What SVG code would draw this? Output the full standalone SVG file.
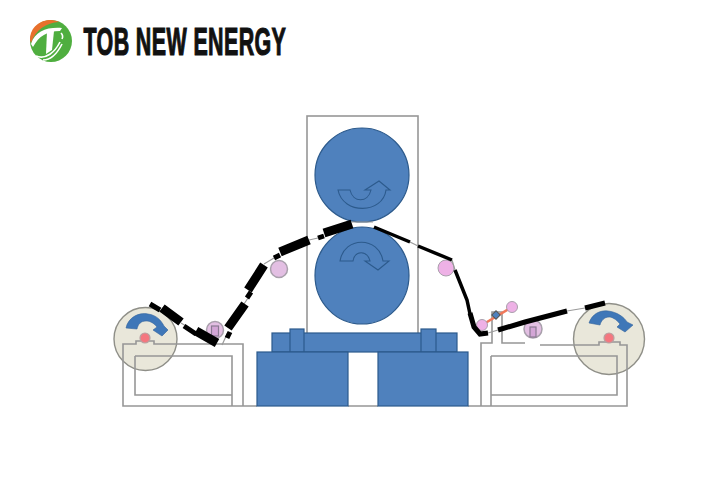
<svg xmlns="http://www.w3.org/2000/svg" width="720" height="480" viewBox="0 0 720 480">
<style>
.frame{fill:none;stroke:#979797;stroke-width:1.6}
.blue{fill:#4f81bd;stroke:#2c5a8c;stroke-width:1.2}
.out{fill:none;stroke:#2c5a8c;stroke-width:1.1}
.cir{fill:#e9e7da;stroke:#8f8f88;stroke-width:1.4}
.arr{fill:#3f77b8;stroke:#35659c;stroke-width:.6}
.red{fill:#f4777f;stroke:#b9a0a0;stroke-width:1.2}
.pur{fill:#e3bfe3;stroke:#a9a0ac;stroke-width:1.5}
.pnk{fill:#eeb1e6;stroke:#a9a0ac;stroke-width:1}
.in{fill:#d3a5d6;stroke:#8a7a92;stroke-width:1.2}
.thin{fill:none;stroke:#9a9a9a;stroke-width:1.2}
.b1{fill:none;stroke:#000;stroke-width:9}
.b2{fill:none;stroke:#000;stroke-width:5}
.b3{fill:none;stroke:#000;stroke-width:3.500}
</style>
<rect width="720" height="480" fill="#fff"/>
<g id="logo">
<circle cx="51" cy="41" r="21" fill="#4fae3f"/>
<path d="M30 40C30 27 40 20 51 20C54 20 57 21 59 22C46 23 36 29 31 43Z" fill="#e8702c"/>
<path d="M31 44C35 31 47 27 62 28L60 31C47 31 39 36 33 47Z" fill="#fff"/>
<path d="M47 31H54L52 50L46 54Z" fill="#fff"/>
<path d="M36 56C46 60 55 52 60 42M43 60C52 60 58 52 62 44M61 33C63 35 63 37 62 39" fill="none" stroke="#fff" stroke-width="1.600"/>
<text transform="translate(83.500 55) scale(.55 1)" font-family="'Liberation Sans',Arial,sans-serif" font-weight="700" font-size="39" fill="#111" stroke="#111" stroke-width="1.200" textLength="368">TOB NEW ENERGY</text>
</g>
<g id="press-frame"><rect class="frame" x="307" y="116" width="111" height="218"/></g>
<g id="roller-top">
<circle class="blue" cx="362" cy="175" r="47"/>
<path class="out" d="M338 190H350C353 203 368 203 371 190H365L379 181L390 190H386C383 214 343 215 338 190Z"/>
</g>
<g id="roller-bottom">
<ellipse class="blue" cx="362" cy="275.500" rx="47" ry="48.500"/>
<path class="out" d="M340 261H353C355 250 367 250 370 261H365L378 270L389 261H383C379 236 344 236 340 261Z"/>
</g>
<g id="press-base">
<path class="frame" d="M243 406H257M348 406H378M468 406H481"/>
<rect class="blue" x="272" y="333" width="185" height="19"/>
<rect class="blue" x="290" y="329" width="14" height="23"/>
<rect class="blue" x="421" y="329" width="15" height="23"/>
<rect class="blue" x="257" y="352" width="91" height="54"/>
<rect class="blue" x="378" y="352" width="90" height="54"/>
</g>
<g id="unwinder">
<circle class="cir" cx="145.500" cy="339" r="31.500"/>
<path class="frame" d="M243 406V344H154V341H136V344H123V406H243M135 356H232V406M135 356V395H232"/>
<path class="arr" d="M126 328C128 318 138 312 148 314C156 315 161 320 164 326L168 330L162 336L153 330L157 327C153 322 149 321 146 321C141 321 138 324 137 329Z"/>
<circle class="red" cx="145" cy="338" r="5"/>
</g>
<g id="guide-left"><circle class="pur" cx="215" cy="330" r="8.500"/><rect class="in" x="211.500" y="326" width="7" height="10"/></g>
<g id="guide-mid-left"><circle class="pur" cx="279" cy="269" r="8.500"/></g>
<g id="guide-mid-right"><circle class="pnk" cx="446" cy="268" r="8"/></g>
<g id="rewinder">
<circle class="cir" cx="609" cy="339" r="35.500"/>
<path class="frame" d="M481 406V343H492V312H502V343H525M540 345H599V342H620V345H627V406H481M491 356H617V395H491V406M491 356V395"/>
<path class="arr" d="M589 323C592 314 600 310 608 311C617 312 624 317 627 322L633 325L625 332L617 327L620 324C616 319 612 317 609 317C604 317 601 321 600 325Z"/>
<circle class="red" cx="609" cy="338" r="5"/>
</g>
<g id="guide-right"><circle class="pur" cx="533" cy="329" r="9"/><rect class="in" x="530" y="327" width="6" height="10"/></g>
<g id="tension">
<path d="M482 325L512 307" fill="none" stroke="#f0785a" stroke-width="2.500"/>
<circle class="pnk" cx="482" cy="325" r="5.500"/>
<circle class="pnk" cx="512" cy="307" r="5.500"/>
<rect x="493" y="312" width="6" height="6" fill="#4f81bd" stroke="#555" stroke-width="1" transform="rotate(45 496 315)"/>
</g>
<g id="connectors">
<path class="thin" d="M181 323L186 326M222 345L228 332M244 304L248 298M264 264L274 258M309 240L318 238M352 222H373M410 242L418 246M452 260L455 270M488 333L498 330M567 311L585 308"/>
<path class="b2" d="M150 304L160 310M184 326L196 334M227 338L230 332M247 298L251 292M274 258L280 255M318 238L324 236"/>
<path class="b1" d="M162 308L181 322M196 331L217 343M228 328L245 304M248 290L264 265M280 252L309 240M324 233L352 224"/>
<path class="b3" d="M374 227L410 242M418 246L452 260M455 270L467 300L470 314"/>
<path class="b2" stroke-width="6" d="M470 313L474 327L480 334L488 333"/>
<path class="b2" d="M498 330L525 322L567 311M585 308L605 303"/>
</g>
</svg>
